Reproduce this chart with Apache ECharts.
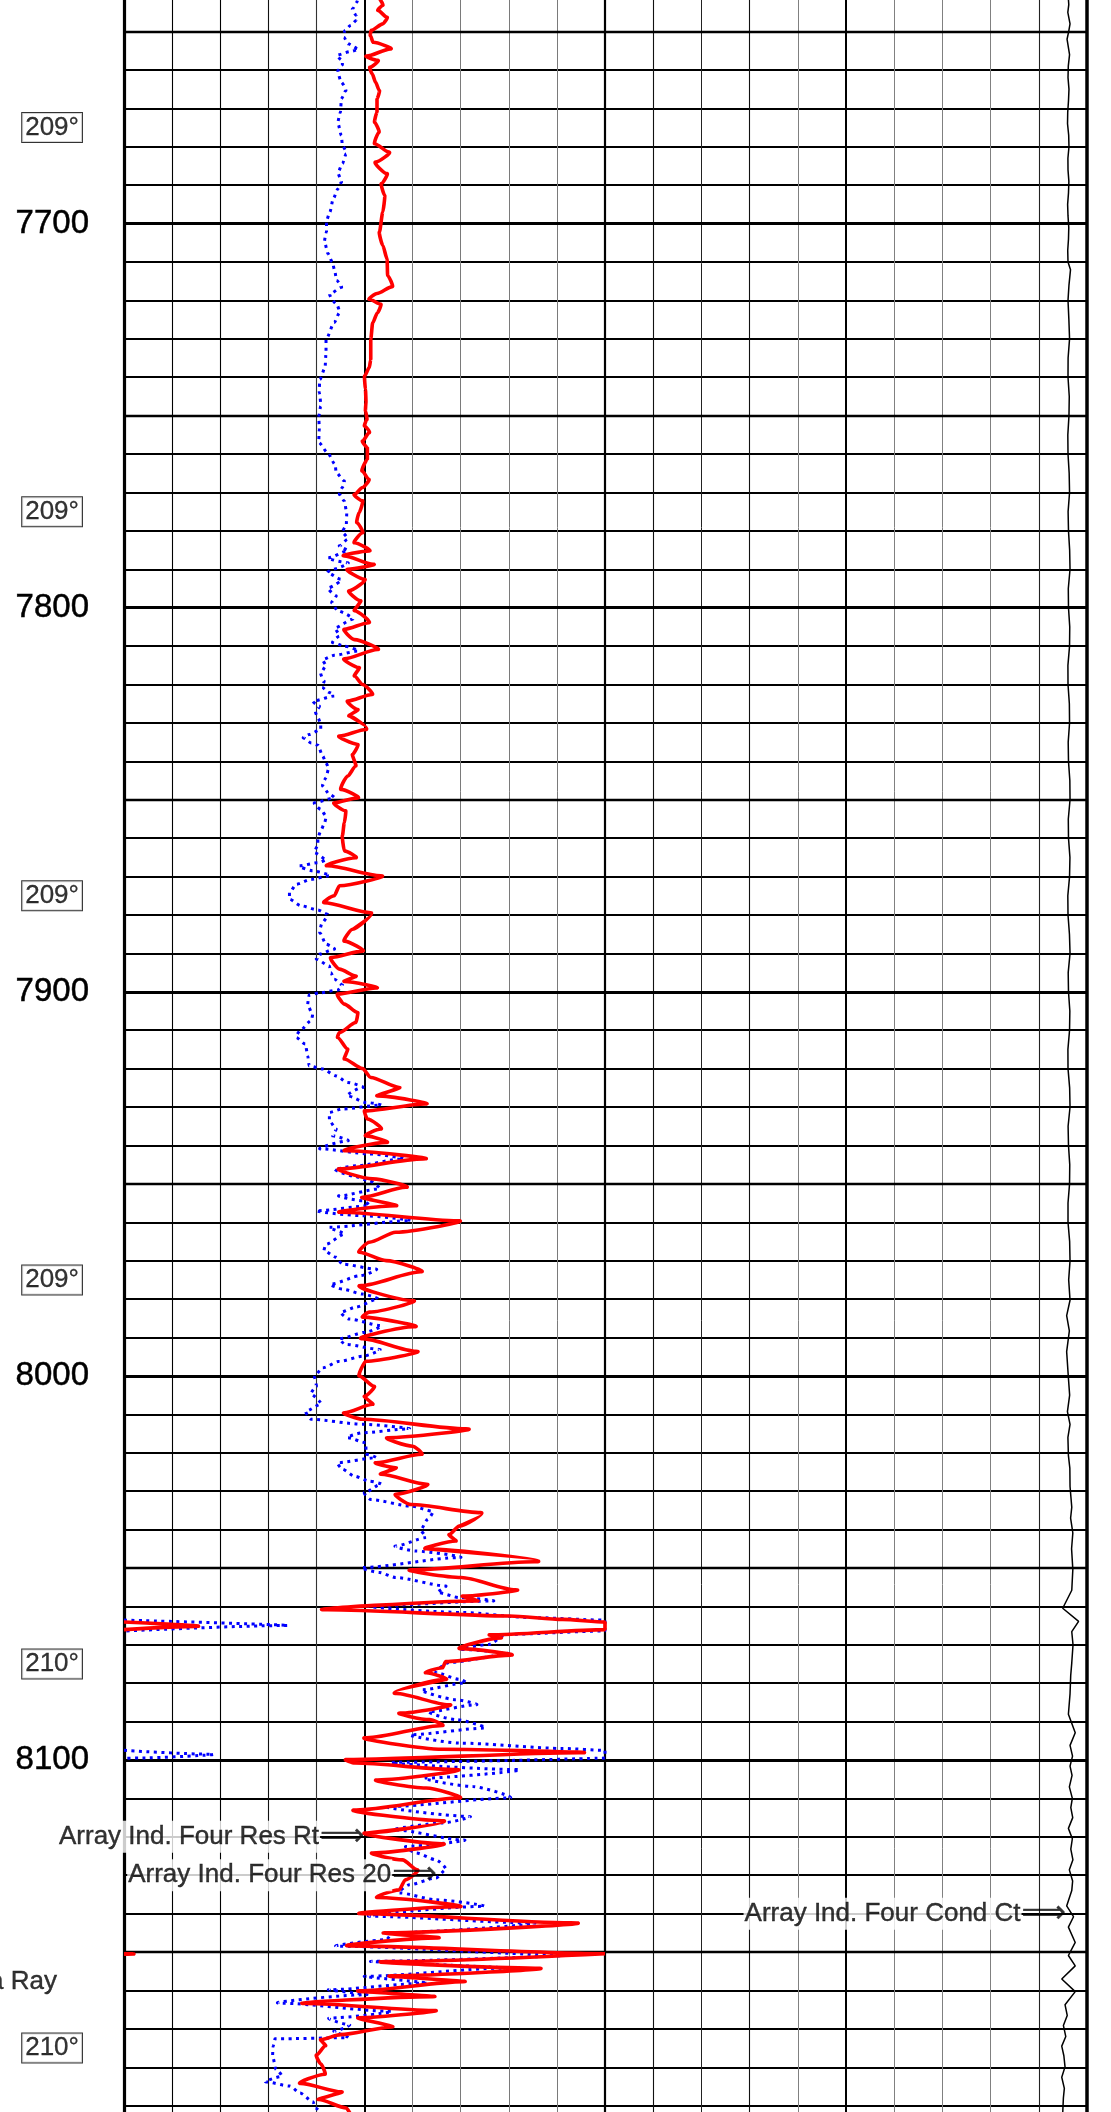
<!DOCTYPE html>
<html><head><meta charset="utf-8">
<script src="https://cdn.jsdelivr.net/npm/echarts/dist/echarts.min.js"></script>
<style>html,body{margin:0;padding:0;background:#fff}#c{width:1111px;height:2112px}</style>
</head><body><div id="c"></div>
<script>
// ---------------- DATA ----------------
const depthLabels = [7700, 7800, 7900, 8000, 8100];
const tempDepths = [7675, 7775, 7875, 7975, 8075, 8175];
const tempLabels = ['209°', '209°', '209°', '209°', '210°', '210°'];
const resScale = [0, 10];      // ohm.m, track 1 (wraps past 10)
const condScale = [500, 0];    // mmho/m, track 2 (reversed)

// Array Ind. Four Res Rt  [depth ft, ohm.m]
const rtCurve = [
[7640,5.25],[7641.5,5.31],[7643.2,5.38],[7644.5,5.28],[7646.3,5.47],[7648,5.38],[7649.7,5.14],[7651,5.12],[7652.8,5.18],[7654.5,5.54],[7656.4,5.04],[7657.5,5.28],[7659.3,5.11],[7661,5.16],[7663.2,5.23],[7665.4,5.31],[7667.5,5.26],[7671,5.26],[7673.6,5.21],[7676.2,5.30],[7679.2,5.21],[7681.4,5.51],[7684,5.23],[7687,5.47],[7689.6,5.35],[7692.7,5.42],[7697,5.38],[7702.2,5.31],[7705.7,5.38],[7709.2,5.47],[7713.5,5.48],[7716.4,5.58],[7718.2,5.26],[7719.7,5.10],[7721,5.34],[7723.2,5.27],[7725.8,5.17],[7730.1,5.13],[7735.4,5.13],[7737.5,5.10],[7739.7,5.0],[7743.2,5.02],[7746.6,5.03],[7748.8,5.02],[7751,5.05],[7752.7,5.0],[7754.4,5.10],[7756.6,4.96],[7758.3,5.06],[7761.4,5.06],[7764.4,4.95],[7766.6,5.09],[7768.7,4.96],[7770.5,4.79],[7772.2,4.96],[7775.2,4.89],[7777.8,4.84],[7780.5,4.96],[7783.1,4.79],[7785.2,5.10],[7786.5,4.58],[7788.7,5.18],[7790,4.65],[7792.6,5.0],[7795.6,4.68],[7798.2,4.92],[7800.8,4.79],[7803.9,5.09],[7805.6,4.58],[7808.3,4.79],[7810.9,5.27],[7813.3,4.58],[7815.6,4.89],[7817.8,4.79],[7820,4.96],[7822.6,5.16],[7824.3,4.65],[7826.5,4.86],[7828.2,4.68],[7831.7,5.03],[7833.4,4.48],[7835.6,4.86],[7838.2,4.75],[7841.2,4.82],[7843.8,4.65],[7847.3,4.51],[7849.5,4.86],[7850.8,4.37],[7852.9,4.61],[7856,4.58],[7859.4,4.54],[7863.3,4.58],[7865.1,4.82],[7867.2,4.23],[7869.8,5.34],[7872.4,4.48],[7875,4.37],[7876.8,4.16],[7879.4,5.13],[7883.7,4.75],[7886.8,4.58],[7889.4,4.96],[7891.1,4.30],[7894.1,4.48],[7895.9,4.82],[7897.3,4.58],[7899,5.24],[7900.6,4.44],[7903.2,4.58],[7905.4,4.86],[7908,4.82],[7910.6,4.48],[7911.9,4.44],[7914.9,4.65],[7917.5,4.58],[7920,4.96],[7922.3,5.13],[7924.9,5.72],[7927.1,5.27],[7929.2,6.26],[7931,5.0],[7933.1,5.06],[7935.7,5.34],[7937.5,5.03],[7939.2,5.46],[7941.4,4.61],[7943.5,6.22],[7946.1,4.48],[7948.7,5.17],[7950.9,5.86],[7953.5,4.96],[7955.7,5.65],[7957.4,4.51],[7959.6,6.94],[7962.6,5.65],[7965.2,5.10],[7967.8,4.89],[7970,5.45],[7972.9,6.17],[7976.5,4.93],[7980.4,6.0],[7983.4,5.10],[7984.7,4.96],[7987.2,6.03],[7990.3,4.96],[7993.6,6.07],[7996.2,5.03],[8000,4.89],[8002.7,5.20],[8005.3,5.0],[8007.4,5.17],[8009.6,4.58],[8011.3,4.96],[8013.8,7.11],[8016.1,5.48],[8018.3,6.0],[8020.4,6.19],[8022.6,5.24],[8023.9,5.65],[8025.6,5.34],[8028.2,6.29],[8030.8,5.65],[8033.5,5.97],[8035.6,7.42],[8039.1,6.97],[8041.3,6.76],[8043,6.90],[8045,6.28],[8048.4,8.53],[8050.5,5.97],[8052.5,7.01],[8055.7,8.14],[8057.3,7.04],[8058.6,7.35],[8060.9,4.23],[8062.5,8.01],[8063.4,9.12],[8065.2,11.5],[8067.4,7.6],[8068.2,7.84],[8071,7.0],[8072.7,8.03],[8074.4,6.69],[8076,6.62],[8077.3,6.28],[8079,6.69],[8082.7,5.66],[8085.6,6.75],[8087.8,5.74],[8089.5,6.35],[8091,6.62],[8094.2,5.05],[8097.2,6.62],[8098.1,9.46],[8099.9,4.61],[8100.8,4.80],[8102.5,6.90],[8105.2,5.27],[8107.3,6.28],[8109.9,6.97],[8113,4.83],[8115.8,6.6],[8119,5.05],[8121.8,6.6],[8124.2,5.17],[8126,5.79],[8128.6,6.1],[8131.2,5.85],[8133.8,5.72],[8135.8,5.27],[8138.2,6.94],[8140,4.96],[8142.4,9.29],[8145,5.42],[8146.3,6.52],[8148.4,4.70],[8150.5,10.2],[8152.5,5.45],[8154.2,8.55],[8156.2,5.55],[8157.7,7.05],[8160.1,4.90],[8161.6,6.42],[8163.4,3.80],[8165.2,6.43],[8167.1,4.88],[8169.5,5.57],[8171.5,4.5],[8172.8,4.09],[8174.4,4.19],[8176.8,4.0],[8179.1,4.09],[8181.8,4.18],[8184.2,3.67],[8186.4,4.52],[8188.4,4.05],[8190.6,4.62],[8192,4.7]
];

// Array Ind. Four Res 20  [depth ft, ohm.m]
const r20Curve = [
[7640,4.88],[7642.4,4.84],[7644.1,4.75],[7645.8,4.83],[7647.1,4.83],[7648.4,4.71],[7649.7,4.59],[7651.5,4.57],[7653.2,4.66],[7654.5,4.87],[7655.2,4.71],[7656.1,4.43],[7657.5,4.54],[7658.8,4.54],[7660.1,4.45],[7663.2,4.52],[7665.4,4.61],[7667.5,4.52],[7671,4.50],[7674,4.45],[7677.1,4.52],[7679.7,4.54],[7681.8,4.62],[7684.4,4.54],[7686.6,4.45],[7689.2,4.52],[7690.9,4.45],[7693.5,4.35],[7697,4.28],[7699.2,4.21],[7702.2,4.21],[7704.8,4.17],[7707.8,4.24],[7710,4.33],[7712.2,4.38],[7714.8,4.42],[7716.6,4.52],[7718.3,4.28],[7721,4.42],[7723.2,4.48],[7725.8,4.37],[7730.1,4.20],[7733.6,4.20],[7737.5,4.18],[7740.6,4.07],[7744,4.06],[7747.5,4.09],[7750.1,4.05],[7753.6,4.06],[7757,4.05],[7759.6,4.23],[7762.7,4.39],[7764.8,4.41],[7767,4.58],[7768.7,4.54],[7770.5,4.48],[7772.2,4.58],[7775.2,4.63],[7778.7,4.62],[7780.5,4.54],[7782.2,4.65],[7783.9,4.48],[7785.2,4.65],[7787,4.25],[7788.3,4.65],[7790,4.34],[7790.9,4.23],[7792.6,4.51],[7794.8,4.25],[7796.9,4.41],[7798.7,4.32],[7800.8,4.44],[7803,4.75],[7805.2,4.39],[7807.4,4.48],[7809.1,4.34],[7810,4.58],[7811.3,4.86],[7812.4,4.37],[7813.5,4.13],[7815.2,4.20],[7816.9,4.09],[7819.1,4.16],[7820.8,4.12],[7822.1,4.27],[7823,4.37],[7824.3,3.93],[7825.6,4.06],[7826.9,3.98],[7828.6,4.03],[7830.1,4.09],[7831.7,4.09],[7833,3.85],[7833.9,3.73],[7835.2,3.89],[7835.8,4.03],[7838.6,4.13],[7840.4,4.20],[7842.1,4.25],[7844.3,4.20],[7846.4,4.13],[7848.6,4.27],[7849.5,4.37],[7850.8,3.96],[7852.5,4.09],[7854.2,4.20],[7856.4,4.16],[7858.1,4.09],[7859.9,4.03],[7862,4.03],[7863.8,3.96],[7865.5,4.20],[7866.4,4.03],[7867.2,3.65],[7868.5,3.92],[7869.8,4.27],[7870.7,3.89],[7872,3.58],[7874.2,3.44],[7875.9,3.44],[7877.6,3.68],[7878.7,4.03],[7879.8,4.23],[7882,4.12],[7884.6,4.07],[7887.6,4.20],[7888.9,4.37],[7890.2,4.06],[7891.5,4.0],[7893.3,4.27],[7895,4.30],[7896.7,4.37],[7898.2,4.54],[7899.5,4.45],[7900.3,4.06],[7900.8,3.85],[7903.6,3.82],[7905.8,3.92],[7907.5,3.89],[7910.1,3.66],[7911.9,3.58],[7913.6,3.77],[7916.7,3.82],[7919.3,3.85],[7920.1,4.13],[7921.9,4.41],[7923.6,4.65],[7924.9,4.96],[7927.1,4.65],[7928.8,5.03],[7929.5,5.34],[7930.5,4.54],[7931.4,4.27],[7933.6,4.27],[7935.7,4.41],[7937.5,4.34],[7938.8,4.65],[7940.9,4.09],[7942.2,5.10],[7943.5,5.79],[7945.3,4.82],[7946.1,4.39],[7947.9,4.75],[7949.2,5.10],[7951.3,5.31],[7953.1,4.48],[7954.4,4.96],[7955.7,5.10],[7957,4.03],[7958.3,4.96],[7959.6,5.93],[7961.3,4.27],[7963.1,4.58],[7965.7,4.20],[7967.4,4.16],[7969.1,4.41],[7970.9,4.54],[7972.2,5.24],[7973.9,4.92],[7976.1,4.30],[7977.4,4.54],[7978.7,4.96],[7980,5.27],[7982.1,4.82],[7983.4,4.51],[7985.2,4.68],[7986.9,5.34],[7988.6,5.03],[7990.3,4.48],[7991.8,4.61],[7993.1,5.31],[7994.9,4.96],[7996.2,4.48],[7997.9,4.13],[8000,3.96],[8002.7,4.0],[8004.8,3.89],[8007.4,4.09],[8009.2,3.78],[8011.3,3.89],[8012.6,4.96],[8013.8,5.90],[8014.8,4.96],[8016.1,4.65],[8017.4,5.03],[8020.4,5.03],[8021.3,5.24],[8022.6,4.44],[8024.3,4.54],[8026.1,4.79],[8027.4,5.10],[8028.2,5.34],[8030.4,5.0],[8032.2,5.13],[8033.9,5.97],[8035.2,6.42],[8037.4,6.31],[8040,6.17],[8042.1,6.28],[8044.3,5.65],[8045.6,6.07],[8047.3,6.97],[8049.9,4.95],[8051.2,5.31],[8052.5,5.65],[8054.7,6.69],[8056.4,6.52],[8057.7,6.97],[8058.6,7.66],[8059.9,5.13],[8061.6,7.04],[8062.9,8.43],[8065,13.3],[8067.3,7.94],[8069.9,7.59],[8071.2,7.04],[8072.5,8.01],[8074.6,6.76],[8077.3,6.49],[8079,6.97],[8079.9,7.11],[8081.7,6.21],[8084.3,6.90],[8085.6,7.32],[8087.4,6.35],[8089.5,6.90],[8091.7,7.49],[8093.4,5.99],[8095.6,6.97],[8097,9.12],[8098.5,11.8],[8099.5,10.3],[8100.6,5.65],[8102.5,8.15],[8104.7,6.28],[8106.9,7.25],[8109.9,8.01],[8112.1,5.52],[8114.7,7.18],[8116.4,6.62],[8118.2,5.65],[8120.8,7.04],[8122.5,5.86],[8124.2,6.07],[8126,6.49],[8128.6,6.69],[8130.7,6.49],[8132.5,5.93],[8134.6,5.72],[8136.4,6.49],[8138.1,7.46],[8140.7,5.17],[8142.4,8.43],[8145,5.59],[8146.8,5.45],[8148.5,4.44],[8150.7,9.12],[8152.4,5.20],[8154.2,7.87],[8156.3,5.03],[8158.1,6.28],[8159.8,4.27],[8161.1,5.03],[8163.3,3.26],[8165.4,5.52],[8167.2,4.27],[8168.9,4.68],[8170.6,4.37],[8172.3,4.66],[8172.6,3.14],[8174.5,3.1],[8177.1,3.09],[8180.6,3.16],[8182.4,3.28],[8183.8,2.95],[8184.9,3.45],[8186.7,3.66],[8189,3.93],[8190.6,3.98],[8192,4.1]
];

// Array Ind. Four Cond Ct  [depth ft, mmho/m]
const ctCurve = [
[7640,19.7],[7643,18.9],[7645,19.9],[7648,17.6],[7650,19.0],[7652,20.7],[7656,18.1],[7659,19.4],[7662,19.7],[7665,18.7],[7668,19.2],[7671,20.0],[7674,20.2],[7677,19.0],[7680,18.7],[7683,19.8],[7686,19.7],[7689,18.8],[7692,19.2],[7695,20.1],[7698,19.7],[7701,18.9],[7704,19.2],[7707,20.0],[7710,19.7],[7712,17.1],[7716,18.7],[7720,19.7],[7725,18.8],[7730,18.1],[7735,19.6],[7740,19.7],[7745,18.4],[7750,18.7],[7755,19.9],[7760,19.7],[7765,18.5],[7770,18.1],[7775,19.6],[7780,19.2],[7785,18.0],[7790,17.6],[7795,19.4],[7800,19.2],[7805,17.9],[7810,18.1],[7815,19.8],[7820,19.7],[7825,18.3],[7830,18.1],[7835,19.5],[7840,19.2],[7845,17.8],[7850,17.6],[7855,19.4],[7860,19.2],[7865,17.7],[7870,18.1],[7875,19.9],[7880,19.7],[7885,18.2],[7890,17.6],[7895,19.5],[7900,19.2],[7905,17.8],[7910,18.1],[7915,19.8],[7920,19.7],[7925,18.0],[7930,17.6],[7935,19.6],[7940,19.2],[7945,17.9],[7950,18.1],[7955,19.7],[7960,19.7],[7965,18.0],[7970,17.6],[7975,19.0],[7980.3,17.6],[7984.3,21.1],[7988.3,18.3],[7993.7,21.1],[8000.5,19.3],[8005,18.0],[8009.3,20.3],[8012.6,17.6],[8016,19.8],[8020.7,19.3],[8024,17.8],[8028.8,17.6],[8034.2,15.8],[8037,17.0],[8040.9,14.7],[8045,16.0],[8050.4,14.7],[8055.8,15.8],[8060.5,25.2],[8063.9,8.7],[8066.6,15.8],[8070,14.5],[8074.7,15.8],[8078,16.9],[8082.8,17.6],[8088.1,19.3],[8092.9,12.2],[8096.2,17.6],[8099,15.0],[8101.6,17.6],[8104,15.5],[8107,18.3],[8110,15.2],[8112.4,16.8],[8115,14.8],[8117.8,19.3],[8120.5,15.2],[8123.2,16.8],[8126,14.6],[8128.6,18.3],[8131.5,14.9],[8134,15.8],[8138,21.1],[8140.8,14.0],[8143.5,19.3],[8147.5,12.2],[8150.9,19.3],[8153.6,12.2],[8157,26.2],[8160.3,12.2],[8163.7,22.8],[8166.5,20.5],[8169.1,24.5],[8172,22.0],[8174.5,26.2],[8177,24.0],[8179.9,22.8],[8182.6,26.2],[8185.5,23.5],[8188,24.5],[8192,25.2]
];

// curve annotations: [track, arrow-tip value, depth, text]
const curveLabels = [
  [0, 5.0, 8120, 'Array Ind. Four Res Rt'],
  [0, 6.5, 8130, 'Array Ind. Four Res 20'],
  [1, 21.8, 8140, 'Array Ind. Four Cond Ct']
];
const gammaLabel = ['Gamma Ray', 8157.7];

// ---------------- LAYOUT ----------------
const Y_MIN = 7640, Y_MAX = 8200;
const PX_FT = 3.841;
const GRID_TOP = 223.6 - (7700 - Y_MIN) * PX_FT;
const GRID_H = (Y_MAX - Y_MIN) * PX_FT;
const FONT = 'Liberation Sans, Arial, sans-serif';

function wrapTrack(pairs, max) {
  const main = [], wraps = [];
  let cur = null;
  pairs.forEach((p, i) => {
    const d = p[0], v = p[1];
    if (i > 0) {
      const d0 = pairs[i - 1][0], v0 = pairs[i - 1][1];
      if ((v0 > max) !== (v > max)) {
        const dc = d0 + (max - v0) / (v - v0) * (d - d0);
        main.push([max, dc]);
        if (v > max) cur = [[0, dc]];
        else { cur.push([0, dc]); wraps.push(cur); cur = null; }
      }
    }
    main.push([Math.min(v, max), d]);
    if (v > max) cur.push([v - max, d]);
  });
  if (cur) wraps.push(cur);
  return { main, wraps };
}

const yAxisBase = (gi, labels) => ({
  gridIndex: gi, type: 'value', inverse: true, min: Y_MIN, max: Y_MAX, interval: 10,
  axisLine: { show: false }, axisTick: { show: false },
  splitLine: { show: gi !== 2, lineStyle: { color: '#000', width: 1.8 } },
  axisLabel: labels ? {
    show: true, margin: 35, fontSize: 33, color: '#000', fontFamily: FONT,
    textBorderColor: '#000', textBorderWidth: 0.5,
    formatter: v => depthLabels.indexOf(v) >= 0 ? String(v) : ''
  } : { show: false }
});
const xAxisHidden = (gi, min, max, inverse) => ({
  gridIndex: gi, type: 'value', min: min, max: max, inverse: !!inverse,
  axisLine: { show: false }, axisTick: { show: false }, axisLabel: { show: false }, splitLine: { show: false }
});

// vertical grid line styles (left to right, 10 divisions each)
const t1Width = [3.2, 1.1, 1.1, 1.1, 1.1, 2, 1, 1, 1, 1, 2.2];
const t1Color = ['#000', '#000', '#000', '#111', '#333', '#000', '#7a7a7a', '#7a7a7a', '#7a7a7a', '#7a7a7a', '#000'];
const t2Width = [0, 1.1, 1, 1.1, 1, 2, 1, 1, 1, 1.1, 3.5];
const t2Color = ['#000', '#111', '#222', '#111', '#808080', '#000', '#808080', '#808080', '#808080', '#222', '#000'];

function vLines(track) {
  const out = [];
  for (let i = 0; i <= 10; i++) {
    if (track === 0) out.push({ xAxis: resScale[0] + (resScale[1] - resScale[0]) * i / 10, lineStyle: { width: t1Width[i], color: t1Color[i], type: 'solid' } });
    else if (i > 0) out.push({ xAxis: condScale[0] + (condScale[1] - condScale[0]) * i / 10, lineStyle: { width: t2Width[i], color: t2Color[i], type: 'solid' } });
  }
  return out;
}
function hLines() {
  const out = [];
  for (let d = 7650; d < Y_MAX; d += 50) out.push({ yAxis: d, lineStyle: { width: d % 100 === 0 ? 2.8 : 2.4, color: '#000', type: 'solid' } });
  return out;
}
const mlBase = { symbol: 'none', silent: true, animation: false, label: { show: false }, emphasis: { disabled: true }, lineStyle: { type: 'solid', color: '#000' } };

const series = [];
[0, 1].forEach(t => {
  series.push({
    type: 'line', xAxisIndex: t, yAxisIndex: t, data: [], z: 1, silent: true,
    markLine: Object.assign({}, mlBase, { data: vLines(t).concat(hLines()) })
  });
});

const blue = wrapTrack(r20Curve, resScale[1]);
const red = wrapTrack(rtCurve, resScale[1]);
const blueStyle = { color: '#0000ff', width: 3, type: [3, 4.5], cap: 'butt' };
const redStyle = { color: '#ff0000', width: 3.6 };
const curveSeries = (data, style, name) => ({
  name: name, type: 'line', xAxisIndex: 0, yAxisIndex: 0, data: data, showSymbol: false, symbol: 'none',
  smooth: 0.25, smoothMonotone: 'x', clip: false, z: 5, silent: true, lineStyle: style
});
series.push(curveSeries(blue.main, blueStyle, 'Array Ind. Four Res 20'));
blue.wraps.forEach(w => series.push(curveSeries(w, blueStyle, 'R20 backup')));
series.push(curveSeries(red.main, redStyle, 'Array Ind. Four Res Rt'));
red.wraps.forEach(w => series.push(curveSeries(w, redStyle, 'Rt backup')));

series.push({
  name: 'Array Ind. Four Cond Ct', type: 'line', xAxisIndex: 1, yAxisIndex: 1,
  data: ctCurve.map(p => [p[1], p[0]]), showSymbol: false, symbol: 'none', clip: false, z: 5, silent: true,
  lineStyle: { color: '#000', width: 1.5 }
});

// temperature boxes
series.push({
  type: 'scatter', xAxisIndex: 2, yAxisIndex: 2, symbolSize: 0, z: 10, silent: true,
  data: tempDepths.map((d, i) => ({ value: [0.42, d], label: { formatter: tempLabels[i] } })),
  label: { show: true, position: 'inside', fontSize: 26, lineHeight: 27, fontFamily: FONT, color: '#000',
    textBorderColor: '#000', textBorderWidth: 0.3,
    backgroundColor: '#fff', borderColor: '#000', borderWidth: 1, padding: [2, 3, 0, 3] }
});
// gamma ray label
series.push({
  type: 'scatter', xAxisIndex: 2, yAxisIndex: 2, symbolSize: 0, z: 10, silent: true,
  data: [{ value: [0.46, gammaLabel[1]] }],
  label: { show: true, position: 'left', distance: 0, formatter: gammaLabel[0], fontSize: 26, fontFamily: FONT, color: '#000',
    textBorderColor: '#000', textBorderWidth: 0.4 }
});
// curve annotations
curveLabels.forEach(c => {
  series.push({
    type: 'scatter', xAxisIndex: c[0], yAxisIndex: c[0], symbolSize: 0, z: 20, silent: true,
    data: [{ value: [c[1], c[2]] }],
    label: {
      show: true, position: 'left', distance: 0,
      formatter: '{t|' + c[3] + '}{a|⟹}',
      rich: {
        t: { fontSize: 26, fontFamily: FONT, color: '#000', backgroundColor: '#fff', padding: [3, 1, 3, 1],
             textBorderColor: '#000', textBorderWidth: 0.4 },
        a: { fontSize: 31, fontFamily: 'DejaVu Sans', color: '#000', textBorderColor: '#000', textBorderWidth: 0.3 }
      }
    }
  });
});

const chart = echarts.init(document.getElementById('c'), null, { renderer: 'canvas' });
chart.setOption({
  animation: false,
  backgroundColor: '#fff',
  grid: [
    { left: 124, width: 481, top: GRID_TOP, height: GRID_H, outerBoundsMode: 'none', containLabel: false },
    { left: 605, width: 482, top: GRID_TOP, height: GRID_H, outerBoundsMode: 'none', containLabel: false },
    { left: 0, width: 124, top: GRID_TOP, height: GRID_H, outerBoundsMode: 'none', containLabel: false }
  ],
  xAxis: [xAxisHidden(0, resScale[0], resScale[1]), xAxisHidden(1, condScale[1], condScale[0], true), xAxisHidden(2, 0, 1)],
  yAxis: [yAxisBase(0, true), yAxisBase(1, false), yAxisBase(2, false)],
  series: series
});
</script>
</body></html>
